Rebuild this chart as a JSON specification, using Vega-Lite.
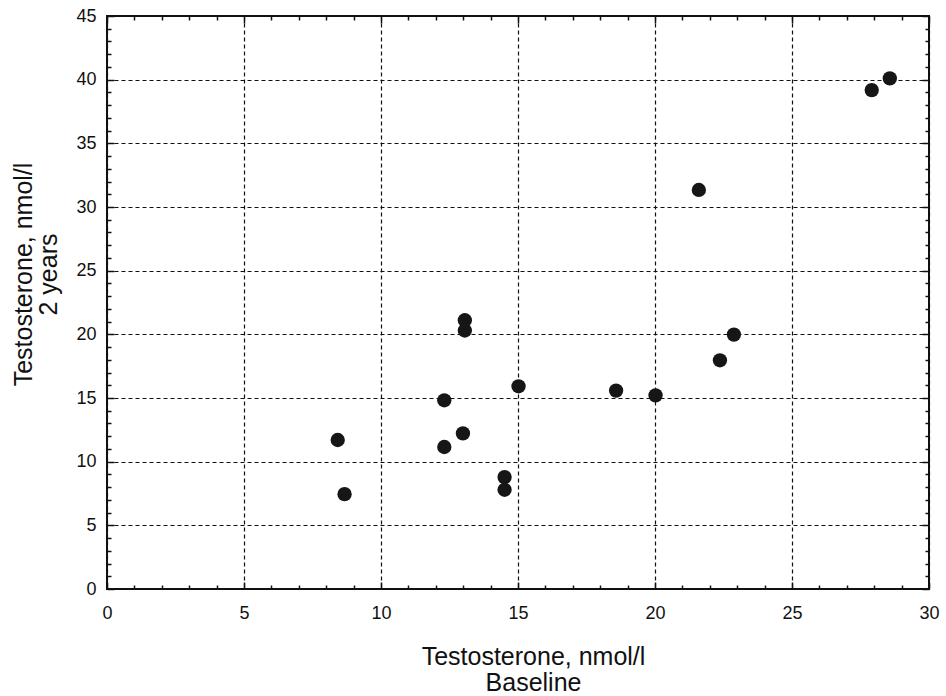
{
  "$schema": "https://vega.github.io/schema/vega-lite/v6.json",
  "autosize": {"type": "none"},
  "padding": {"left": 107, "top": 16, "right": 17, "bottom": 107},
  "width": 822,
  "height": 573,
  "background": "white",
  "config": {
    "view": {"stroke": "#111", "strokeWidth": 2},
    "font": "Liberation Sans",
    "axis": {
      "labelFont": "Liberation Sans",
      "titleFont": "Liberation Sans",
      "labelColor": "#111",
      "titleColor": "#111",
      "titleFontWeight": "normal",
      "labelFlush": false,
      "labelOverlap": false
    }
  },
  "data": {
    "values": [
      {"baseline": 8.42, "two_years": 11.7},
      {"baseline": 8.67, "two_years": 7.45},
      {"baseline": 12.31, "two_years": 14.82},
      {"baseline": 12.31, "two_years": 11.15},
      {"baseline": 12.99, "two_years": 12.22},
      {"baseline": 13.06, "two_years": 21.11},
      {"baseline": 13.06, "two_years": 20.3},
      {"baseline": 14.51, "two_years": 8.79},
      {"baseline": 14.51, "two_years": 7.79},
      {"baseline": 15.02, "two_years": 15.92},
      {"baseline": 18.58, "two_years": 15.58},
      {"baseline": 20.02, "two_years": 15.21},
      {"baseline": 21.6, "two_years": 31.34},
      {"baseline": 22.37, "two_years": 17.96},
      {"baseline": 22.88, "two_years": 19.98},
      {"baseline": 27.91, "two_years": 39.18},
      {"baseline": 28.57, "two_years": 40.1}
    ]
  },
  "resolve": {"axis": {"x": "independent", "y": "independent"}},
  "layer": [
    {
      "mark": {"type": "circle", "opacity": 0},
      "encoding": {
        "x": {
          "field": "baseline", "type": "quantitative",
          "scale": {"domain": [0, 30], "nice": false, "zero": false},
          "axis": {
            "orient": "bottom", "title": null, "labels": false, "grid": false, "domain": false,
            "values": [0,1,2,3,4,5,6,7,8,9,10,11,12,13,14,15,16,17,18,19,20,21,22,23,24,25,26,27,28,29,30],
            "tickColor": "#111", "tickWidth": 1.5,
            "tickSize": {"condition": {"test": "datum.value % 5 === 0", "value": -7}, "value": -4}
          }
        },
        "y": {
          "field": "two_years", "type": "quantitative",
          "scale": {"domain": [0, 45], "nice": false, "zero": false},
          "axis": {
            "orient": "left", "title": null, "labels": false, "grid": false, "domain": false,
            "values": [0,1,2,3,4,5,6,7,8,9,10,11,12,13,14,15,16,17,18,19,20,21,22,23,24,25,26,27,28,29,30,31,32,33,34,35,36,37,38,39,40,41,42,43,44,45],
            "tickColor": "#111", "tickWidth": 1.5,
            "tickSize": {"condition": {"test": "datum.value % 5 === 0", "value": -7}, "value": -4}
          }
        }
      }
    },
    {
      "mark": {"type": "circle", "opacity": 0},
      "encoding": {
        "x": {
          "field": "baseline", "type": "quantitative",
          "axis": {
            "orient": "top", "title": null, "labels": false, "grid": false, "domain": false,
            "values": [0,1,2,3,4,5,6,7,8,9,10,11,12,13,14,15,16,17,18,19,20,21,22,23,24,25,26,27,28,29,30],
            "tickColor": "#111", "tickWidth": 1.5,
            "tickSize": {"condition": {"test": "datum.value % 5 === 0", "value": -7}, "value": -4}
          }
        },
        "y": {
          "field": "two_years", "type": "quantitative",
          "axis": {
            "orient": "right", "title": null, "labels": false, "grid": false, "domain": false,
            "values": [0,1,2,3,4,5,6,7,8,9,10,11,12,13,14,15,16,17,18,19,20,21,22,23,24,25,26,27,28,29,30,31,32,33,34,35,36,37,38,39,40,41,42,43,44,45],
            "tickColor": "#111", "tickWidth": 1.5,
            "tickSize": {"condition": {"test": "datum.value % 5 === 0", "value": -7}, "value": -4}
          }
        }
      }
    },
    {
      "mark": {"type": "circle", "color": "#161616", "opacity": 1, "size": 205},
      "encoding": {
        "x": {
          "field": "baseline", "type": "quantitative",
          "axis": {
            "orient": "bottom",
            "title": ["Testosterone, nmol/l", "Baseline"],
            "titleFontSize": 25, "titleLineHeight": 26,
            "titleBaseline": "alphabetic", "titleX": 426, "titleY": 75,
            "values": [0, 5, 10, 15, 20, 25, 30],
            "ticks": false, "domain": false,
            "labelFontSize": 18, "labelPadding": 15,
            "grid": true, "gridColor": "#111", "gridDash": [4, 3], "gridWidth": 1.2, "gridOpacity": 1
          }
        },
        "y": {
          "field": "two_years", "type": "quantitative",
          "axis": {
            "orient": "left",
            "title": ["Testosterone, nmol/l", "2 years"],
            "titleFontSize": 25, "titleLineHeight": 25,
            "titleBaseline": "alphabetic", "titleAngle": -90, "titleX": -76, "titleY": 258,
            "values": [0, 5, 10, 15, 20, 25, 30, 35, 40, 45],
            "ticks": false, "domain": false,
            "labelFontSize": 18, "labelPadding": 11,
            "grid": true, "gridColor": "#111", "gridDash": [4, 3], "gridWidth": 1.2, "gridOpacity": 1
          }
        }
      }
    }
  ]
}
